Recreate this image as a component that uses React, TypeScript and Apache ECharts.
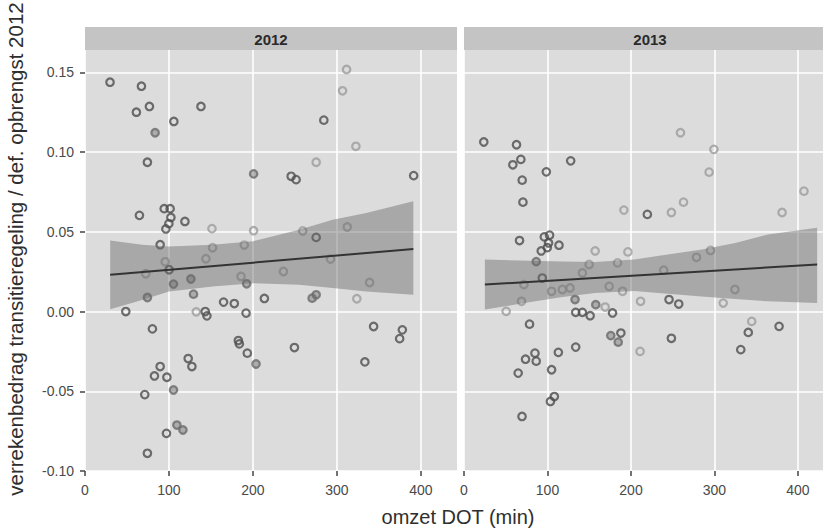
import React, { useEffect, useRef } from "react";
import * as echarts from "echarts";

// ---- tick labels ----
const xTicks = [0, 100, 200, 300, 400];
const yTicks = [-0.1, -0.05, 0, 0.05, 0.1, 0.15];
const facets = ["2012", "2013"];

// ---- 2012 panel points [omzet DOT, ratio] ----
const pts2012Dark = [
  [29.8, 0.1438], [67.2, 0.1413], [76.7, 0.1286], [61.2, 0.125], [138.1, 0.1286], [105.8, 0.1192],
  [74.3, 0.0936], [64.8, 0.0603], [94.3, 0.0645], [101.4, 0.0645], [102.3, 0.059], [99.9, 0.0551],
  [96.3, 0.0518], [119, 0.0565], [89.5, 0.0419], [284.4, 0.12], [245.5, 0.0848], [251.4, 0.0827],
  [391.4, 0.0852], [275.3, 0.0465], [100.2, 0.0262], [48.6, 0.0], [80.3, -0.0109], [143.2, 0.0],
  [145.2, -0.0027], [165, 0.0059], [177.8, 0.005], [191.8, -0.001], [213.6, 0.0082], [182.6, -0.0182],
  [183.8, -0.0203], [193.3, -0.0261], [122.9, -0.0295], [127.3, -0.0345], [89.5, -0.0345], [82.7, -0.0404],
  [97.5, -0.0412], [71.2, -0.0521], [97, -0.0764], [74.3, -0.0889], [343.7, -0.0094], [377.9, -0.0115],
  [374.7, -0.017], [249.4, -0.0226], [333.3, -0.0316],
];
const pts2012Mid = [
  [83.5, 0.1121], [200.8, 0.0863], [105.4, 0.0172], [126.1, 0.0204], [129.2, 0.0109], [74.3, 0.0088],
  [203.7, -0.0329], [105.4, -0.0492], [109.4, -0.0712], [116.6, -0.0743], [270.5, 0.0084], [275.3, 0.0105],
  [192.5, 0.0174],
];
const pts2012Light = [
  [151.2, 0.052], [200.8, 0.0507], [151.9, 0.04], [189.7, 0.0417], [95.5, 0.0312], [144, 0.0331],
  [311.5, 0.1518], [306.7, 0.1384], [322.6, 0.1036], [275.3, 0.0936], [259.3, 0.0505], [312.3, 0.053],
  [292.4, 0.0329], [72.4, 0.0237], [132.5, -0.0002], [185.8, 0.022], [236.3, 0.0251], [323.7, 0.008],
  [338.9, 0.0182],
];

// ---- 2013 panel points ----
const pts2013Dark = [
  [23.7, 0.1063], [62.9, 0.1046], [68.1, 0.0954], [58.5, 0.092], [127.8, 0.0945], [98.6, 0.0876],
  [69.7, 0.0824], [70.6, 0.0686], [66.5, 0.0445], [96.2, 0.0468], [102.5, 0.0479], [101.3, 0.043],
  [113.8, 0.0416], [99.8, 0.0401], [92.5, 0.038], [93.8, 0.021], [219.6, 0.0609], [133.8, -0.0005],
  [141.8, -0.0005], [151.1, -0.0026], [177.9, -0.0009], [78.5, -0.0079], [187.9, -0.0135], [133.8, -0.0223],
  [113, -0.0256], [85, -0.0261], [73.7, -0.0299], [86.5, -0.0311], [64.9, -0.0386], [104.9, -0.0365],
  [108.2, -0.0533], [103.5, -0.0564], [69.5, -0.0658], [245.6, 0.0075], [257.2, 0.0047], [248.4, -0.0168],
  [340.5, -0.0131], [377.4, -0.0093], [331.5, -0.0239],
];
const pts2013Mid = [
  [86.5, 0.0313], [133, 0.0075], [175.8, -0.0151], [184.7, -0.0192], [157.8, 0.0043],
];
const pts2013Light = [
  [191.5, 0.0636], [157.1, 0.038], [196.3, 0.0374], [149.9, 0.0295], [183.9, 0.0305], [141.8, 0.0242],
  [259.3, 0.1121], [299.3, 0.1017], [293.6, 0.0874], [262.9, 0.0686], [248.4, 0.0621], [381, 0.0621],
  [407.2, 0.0755], [295.3, 0.0383], [278.5, 0.034], [239.2, 0.0259], [71.8, 0.0169], [104.9, 0.0127],
  [117.8, 0.0138], [127, 0.0148], [173.9, 0.0158], [189.9, 0.0127], [68.9, 0.0064], [50.5, 0.0001],
  [169.1, 0.0028], [210.9, -0.025], [211.5, 0.0064], [310.5, 0.0053], [324.5, 0.0138], [344.6, -0.0062],
];

// ---- fitted lines and confidence bands ----
const fit2012 = [[30, 0.023], [391, 0.0392]];
const band2012X = [30, 68, 100, 152, 200, 255, 295, 335, 391];
const band2012Lo = [0.0015, 0.0073, 0.0126, 0.0157, 0.0178, 0.0168, 0.0147, 0.0126, 0.0105];
const band2012Hi = [0.0446, 0.0419, 0.0408, 0.0419, 0.044, 0.0513, 0.0576, 0.0618, 0.0691];

const fit2013 = [[25, 0.0169], [423, 0.0295]];
const band2013X = [25, 78, 118, 157, 204, 244, 285, 325, 364, 423];
const band2013Lo = [0.0012, 0.0058, 0.0091, 0.0116, 0.0128, 0.0112, 0.0095, 0.0079, 0.0064, 0.0053];
const band2013Hi = [0.0326, 0.0318, 0.0313, 0.031, 0.0326, 0.0357, 0.0389, 0.043, 0.0483, 0.0525];

const FONT = "Liberation Sans, Arial, sans-serif";

function bandSeries(idx: number, xs: number[], lo: number[], hi: number[]) {
  return {
    type: "custom",
    xAxisIndex: idx,
    yAxisIndex: idx,
    data: [[xs[0], lo[0]]],
    silent: true,
    clip: true,
    z: 5,
    renderItem: (_params: any, api: any) => {
      const points: number[][] = [];
      for (let i = 0; i < xs.length; i++) points.push(api.coord([xs[i], hi[i]]));
      for (let i = xs.length - 1; i >= 0; i--) points.push(api.coord([xs[i], lo[i]]));
      return {
        type: "polygon",
        shape: { points },
        style: { fill: "rgba(105,105,105,0.45)" },
      };
    },
  };
}

function scatter(idx: number, data: number[][], stroke: string, fill: string) {
  return {
    type: "scatter",
    xAxisIndex: idx,
    yAxisIndex: idx,
    data,
    symbol: "circle",
    symbolSize: 7.5,
    z: 3,
    itemStyle: { color: fill, borderColor: stroke, borderWidth: 2.2 },
  };
}

function fitLine(idx: number, data: number[][]) {
  return {
    type: "line",
    xAxisIndex: idx,
    yAxisIndex: idx,
    data,
    symbol: "none",
    z: 6,
    lineStyle: { color: "#333333", width: 2 },
  };
}

export default function App() {
  const ref = useRef<HTMLDivElement>(null);
  useEffect(() => {
    if (!ref.current) return;
    const chart = echarts.init(ref.current, undefined, { renderer: "svg" });
    const panelBg = "#dcdcdc";
    const xAxisBase = (max: number) => ({
      type: "value",
      min: 0,
      max,
      interval: 100,
      axisLine: { show: false, onZero: false },
      axisTick: { show: true, length: 5, customValues: xTicks, lineStyle: { color: "#444", width: 1.5 } },
      axisLabel: {
        customValues: xTicks,
        margin: 12,
        color: "#4a4a4a",
        fontSize: 14,
        fontFamily: FONT,
        formatter: (v: number) => (xTicks.indexOf(v) >= 0 ? String(v) : ""),
      },
      splitLine: { show: true, lineStyle: { color: "#ffffff", width: 1.6 } },
    });
    const yAxisBase = (showLabels: boolean) => ({
      type: "value",
      min: -0.1,
      max: 0.164,
      interval: 0.05,
      axisLine: { show: false, onZero: false },
      axisTick: { show: showLabels, length: 5, customValues: yTicks, lineStyle: { color: "#444", width: 1.5 } },
      axisLabel: {
        show: showLabels,
        customValues: yTicks,
        margin: 11,
        color: "#4a4a4a",
        fontSize: 14,
        fontFamily: FONT,
        formatter: (v: number) => {
          const ok = yTicks.some((t) => Math.abs(t - v) < 1e-9);
          return ok ? v.toFixed(2) : "";
        },
      },
      splitLine: { show: true, lineStyle: { color: "#ffffff", width: 1.6 } },
    });

    chart.setOption({
      animation: false,
      backgroundColor: "#ffffff",
      grid: [
        { left: 85, top: 50, width: 372, height: 421, show: true, backgroundColor: panelBg, borderWidth: 0, containLabel: false },
        { left: 464, top: 50, width: 359, height: 421, show: true, backgroundColor: panelBg, borderWidth: 0, containLabel: false },
      ],
      xAxis: [
        { ...xAxisBase(443), gridIndex: 0 },
        { ...xAxisBase(430), gridIndex: 1 },
      ],
      yAxis: [
        { ...yAxisBase(true), gridIndex: 0 },
        { ...yAxisBase(false), gridIndex: 1 },
      ],
      graphic: [
        { type: "rect", shape: { x: 85, y: 27, width: 372, height: 23 }, style: { fill: "#c4c4c4" }, silent: true },
        { type: "rect", shape: { x: 464, y: 27, width: 372, height: 23 }, style: { fill: "#c4c4c4" }, silent: true },
        {
          type: "text", x: 271, y: 39,
          style: { text: facets[0], fill: "#2a2a2a", font: `bold 15px ${FONT}`, align: "center", verticalAlign: "middle" },
        },
        {
          type: "text", x: 650, y: 39,
          style: { text: facets[1], fill: "#2a2a2a", font: `bold 15px ${FONT}`, align: "center", verticalAlign: "middle" },
        },
        {
          type: "text", x: 458, y: 517,
          style: { text: "omzet DOT (min)", fill: "#2e2e2e", font: `20px ${FONT}`, align: "center", verticalAlign: "middle" },
        },
        {
          type: "text", x: 15, y: 249, rotation: Math.PI / 2,
          style: {
            text: "verrekenbedrag transitieregeling / def. opbrengst 2012",
            fill: "#2e2e2e", font: `20.5px ${FONT}`, align: "center", verticalAlign: "middle",
          },
        },
      ],
      series: [
        scatter(0, pts2012Light, "#9c9c9c", "rgba(0,0,0,0)"),
        scatter(0, pts2012Mid, "#6a6a6a", "rgba(120,120,120,0.6)"),
        scatter(0, pts2012Dark, "#4e4e4e", "rgba(0,0,0,0)"),
        bandSeries(0, band2012X, band2012Lo, band2012Hi),
        fitLine(0, fit2012),
        scatter(1, pts2013Light, "#9c9c9c", "rgba(0,0,0,0)"),
        scatter(1, pts2013Mid, "#6a6a6a", "rgba(120,120,120,0.6)"),
        scatter(1, pts2013Dark, "#4e4e4e", "rgba(0,0,0,0)"),
        bandSeries(1, band2013X, band2013Lo, band2013Hi),
        fitLine(1, fit2013),
      ],
    });
    return () => chart.dispose();
  }, []);
  return <div ref={ref} style={{ position: "fixed", left: 0, top: 0, width: 823, height: 529 }} />;
}
